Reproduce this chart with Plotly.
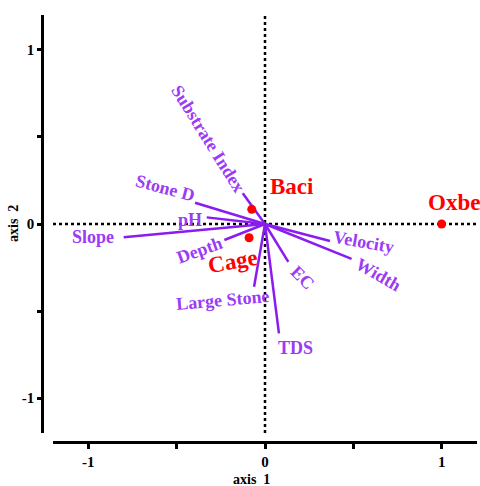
import plotly.graph_objects as go

# ---- data ----
var_names = ["Substrate Index", "Stone D", "pH", "Slope", "Depth",
             "Large Stone", "TDS", "EC", "Width", "Velocity"]
vec_x = [-0.126, -0.396, -0.33, -0.80, -0.23, -0.062, 0.079, 0.132, 0.49, 0.368]
vec_y = [0.176, 0.122, 0.038, -0.076, -0.092, -0.36, -0.628, -0.217, -0.20, -0.098]

site_names = ["Baci", "Cage", "Oxbe"]
site_x = [-0.075, -0.09, 1.0]
site_y = [0.084, -0.079, 0.0]

x_tickvals = [-1, -0.5, 0, 0.5, 1]
x_ticktext = ["-1", "", "0", "", "1"]
y_tickvals = [-1, -0.5, 0, 0.5, 1]
y_ticktext = ["-1", "", "0", "", "1"]

# ---- label placement (style) ----
var_label_pos = {
    "Substrate Index": (-0.32, 0.49, 58),
    "Stone D": (-0.566, 0.207, 15),
    "pH": (-0.424, 0.023, 0),
    "Slope": (-0.971, -0.073, 0),
    "Depth": (-0.368, -0.149, -20),
    "Large Stone": (-0.238, -0.437, -5),
    "TDS": (0.175, -0.713, 0),
    "EC": (0.215, -0.31, 45),
    "Width": (0.645, -0.293, 30),
    "Velocity": (0.56, -0.103, 10),
}
site_label_pos = {
    "Baci": (0.153, 0.213, 0),
    "Cage": (-0.181, -0.218, -10),
    "Oxbe": (1.07, 0.121, 0),
}

SERIF = "Liberation Serif"
LINE_PURPLE = "#8A1CF0"
TEXT_PURPLE = "#9B3BF5"
RED = "#FF0000"

W, H = 480, 486
ML, MR, MT, MB = 42, 3, 15, H - 442

fig = go.Figure()

# vectors
lx, ly = [], []
for vx, vy in zip(vec_x, vec_y):
    lx += [0, vx, None]
    ly += [0, vy, None]
fig.add_trace(go.Scatter(x=lx, y=ly, mode="lines",
                         line=dict(color=LINE_PURPLE, width=2.5),
                         hoverinfo="skip", showlegend=False))

# sites
fig.add_trace(go.Scatter(x=site_x, y=site_y, mode="markers",
                         marker=dict(color=RED, size=9),
                         showlegend=False))

annotations = []
for n in var_names:
    ax_, ay_, ang = var_label_pos[n]
    annotations.append(dict(x=ax_, y=ay_, xref="x", yref="y", text=n,
                            showarrow=False, textangle=ang,
                            font=dict(family=SERIF, size=18, color=TEXT_PURPLE, weight="bold")))
for n in site_names:
    ax_, ay_, ang = site_label_pos[n]
    annotations.append(dict(x=ax_, y=ay_, xref="x", yref="y", text=n,
                            showarrow=False, textangle=ang,
                            font=dict(family=SERIF, size=23, color=RED, weight="bold")))

pw = W - ML - MR
ph = H - MT - MB
annotations.append(dict(text="axis  1", showarrow=False, xref="paper", yref="paper",
                        x=(251 - 42) / pw, y=(442 - 479) / ph,
                        xanchor="center", yanchor="middle",
                        font=dict(family=SERIF, size=14, weight="bold")))
annotations.append(dict(text="axis  2", textangle=-90, showarrow=False,
                        xref="paper", yref="paper",
                        x=(13 - 42) / pw, y=(442 - 224) / ph,
                        xanchor="center", yanchor="middle",
                        font=dict(family=SERIF, size=14, weight="bold")))

fig.update_layout(
    width=W, height=H,
    margin=dict(l=ML, r=MR, t=MT, b=MB, pad=0),
    plot_bgcolor="white", paper_bgcolor="white",
    font=dict(family=SERIF, size=14, color="black", weight="bold"),
    xaxis=dict(range=[-1.2, 1.2], domain=[11 / pw, 1], anchor="free", position=0,
               showline=True, linecolor="black", linewidth=2.5,
               ticks="outside", ticklen=5, tickwidth=2.5, tickcolor="black",
               tickvals=x_tickvals, ticktext=x_ticktext,
               showgrid=False, zeroline=False, automargin=False,
               tickfont=dict(family=SERIF, size=15, weight="bold")),
    yaxis=dict(range=[-1.2, 1.2], domain=[9 / ph, 1], anchor="free", position=0,
               showline=True, linecolor="black", linewidth=2.5,
               ticks="outside", ticklen=4, tickwidth=2.5, tickcolor="black",
               tickvals=y_tickvals, ticktext=y_ticktext,
               showgrid=False, zeroline=False, automargin=False,
               tickfont=dict(family=SERIF, size=15, weight="bold")),
    shapes=[
        dict(type="line", xref="x domain", yref="y", x0=0, x1=1, y0=0, y1=0,
             line=dict(color="black", width=2.5, dash="3px,3px"), layer="below"),
        dict(type="line", xref="x", yref="y domain", x0=0, x1=0, y0=0, y1=1,
             line=dict(color="black", width=2.5, dash="3px,3px"), layer="below"),
    ],
    annotations=annotations,
)

fig.write_html(
    "out.html",
    config={"displayModeBar": False},
    post_script="document.body.style.margin='0';document.body.style.overflow='hidden';",
)
